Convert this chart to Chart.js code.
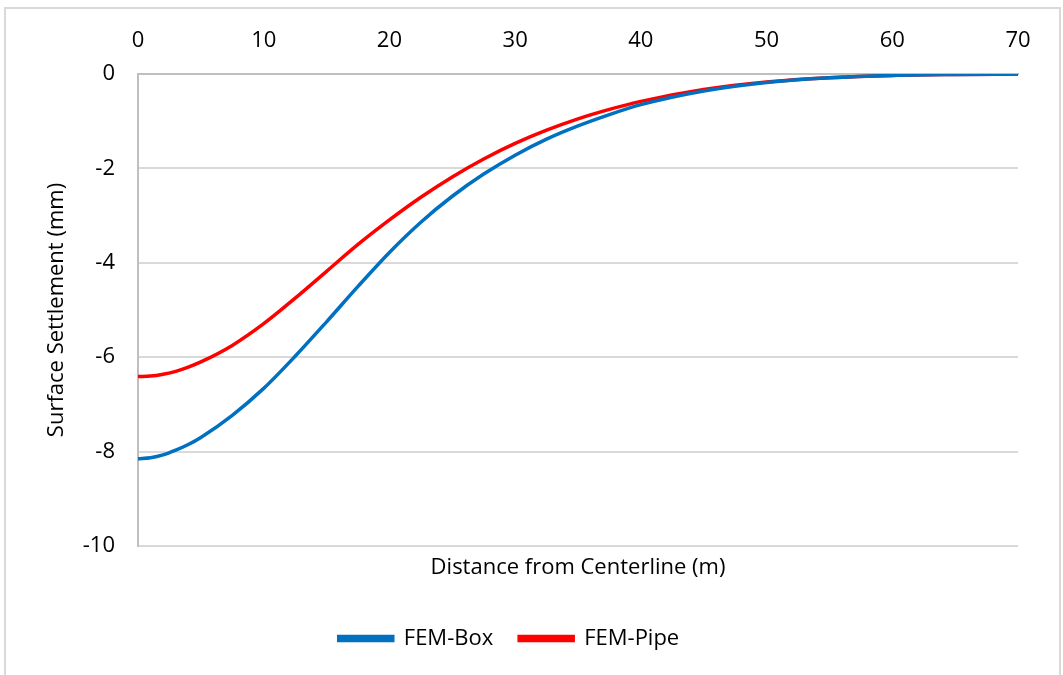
<!DOCTYPE html>
<html>
<head>
<meta charset="utf-8">
<script src="https://cdn.jsdelivr.net/npm/chart.js@4.4.1/dist/chart.umd.min.js"></script>
<style>
  html, body { margin: 0; padding: 0; background: #ffffff; }
  #wrap { width: 1063px; height: 675px; position: relative; }
</style>
</head>
<body>
<div id="wrap"><canvas id="c" width="1063" height="675"></canvas></div>
<script>
// Distance from the tunnel centerline (m)
const distances = [0, 1, 2, 3, 4, 5, 7.5, 10, 12.5, 15, 17.5, 20, 22.5, 25, 27.5, 30, 32.5, 35, 37.5, 40, 45, 50, 55, 60, 65, 70];

// Surface settlement (mm) for each model
const femBox  = [-8.15, -8.13, -8.07, -7.97, -7.85, -7.70, -7.23, -6.66, -5.98, -5.25, -4.50, -3.78, -3.14, -2.59, -2.12, -1.72, -1.38, -1.10, -0.86, -0.65, -0.36, -0.18, -0.08, -0.03, -0.01, 0];
const femPipe = [-6.41, -6.40, -6.36, -6.30, -6.21, -6.10, -5.75, -5.29, -4.75, -4.18, -3.61, -3.09, -2.61, -2.18, -1.80, -1.47, -1.19, -0.95, -0.75, -0.58, -0.33, -0.17, -0.08, -0.03, -0.01, 0];

// Axis ranges and tick steps
const xRange = [0, 70];
const xStep = 10;
const yRange = [-10, 0];
const yStep = 2;

const seriesNames = ['FEM-Box', 'FEM-Pipe'];
const seriesColors = ['#0070C0', '#FF0000'];

const FONT = '"Open Sans", Lato, sans-serif';
const FONT_SIZE = 22;
const TEXT = '#000000';

const toPoints = (xs, ys) => xs.map((x, i) => ({ x: x, y: ys[i] }));

// White background plus the light frame around the chart
const framePlugin = {
  id: 'frame',
  beforeDraw(chart) {
    const ctx = chart.ctx;
    ctx.save();
    ctx.fillStyle = '#ffffff';
    ctx.fillRect(0, 0, chart.width, chart.height);
    ctx.strokeStyle = '#d9d9d9';
    ctx.lineWidth = 2;
    ctx.strokeRect(5, 8, 1055, 700);
    ctx.restore();
  }
};

const lineStyle = (color) => ({
  borderColor: color,
  backgroundColor: color,
  borderWidth: 3.5,
  pointRadius: 0,
  cubicInterpolationMode: 'monotone',
  fill: false
});

new Chart(document.getElementById('c'), {
  type: 'line',
  data: {
    datasets: [
      Object.assign({ label: seriesNames[0], data: toPoints(distances, femBox) }, lineStyle(seriesColors[0])),
      Object.assign({ label: seriesNames[1], data: toPoints(distances, femPipe) }, lineStyle(seriesColors[1]))
    ]
  },
  options: {
    responsive: false,
    animation: false,
    devicePixelRatio: 1,
    layout: { padding: { left: 0, top: 0, right: 45, bottom: 15.5 } },
    plugins: {
      legend: {
        position: 'bottom',
        labels: {
          boxWidth: 54,
          boxHeight: 4,
          padding: 26,
          color: TEXT,
          font: { family: FONT, size: FONT_SIZE }
        }
      },
      tooltip: { enabled: false }
    },
    scales: {
      x: {
        type: 'linear',
        position: 'top',
        min: xRange[0],
        max: xRange[1],
        ticks: {
          stepSize: xStep,
          padding: 20,
          color: TEXT,
          font: { family: FONT, size: FONT_SIZE }
        },
        grid: { display: true, color: 'rgba(0,0,0,0)', drawTicks: false },
        border: { display: true, color: '#bfbfbf', width: 2 },
        afterFit(scale) { scale.height = 74; }
      },
      xTitle: {
        type: 'linear',
        position: 'bottom',
        min: xRange[0],
        max: xRange[1],
        ticks: { display: false },
        grid: { display: false, drawTicks: false },
        border: { display: false },
        title: {
          display: true,
          text: 'Distance from Centerline (m)',
          color: TEXT,
          font: { family: FONT, size: FONT_SIZE },
          padding: { top: 8.8, bottom: 20.3 }
        }
      },
      y: {
        type: 'linear',
        min: yRange[0],
        max: yRange[1],
        ticks: {
          stepSize: yStep,
          padding: 23,
          color: TEXT,
          font: { family: FONT, size: FONT_SIZE }
        },
        grid: {
          color: (ctx) => (ctx.tick && ctx.tick.value === 0) ? 'rgba(0,0,0,0)' : '#d9d9d9',
          lineWidth: 2,
          drawTicks: false
        },
        border: { display: true, color: '#bfbfbf', width: 2 },
        title: {
          display: true,
          text: 'Surface Settlement (mm)',
          color: TEXT,
          font: { family: FONT, size: FONT_SIZE },
          padding: { top: 43.8, bottom: 0 }
        },
        afterFit(scale) { scale.width = 138; }
      }
    }
  },
  plugins: [framePlugin]
});
</script>
</body>
</html>
